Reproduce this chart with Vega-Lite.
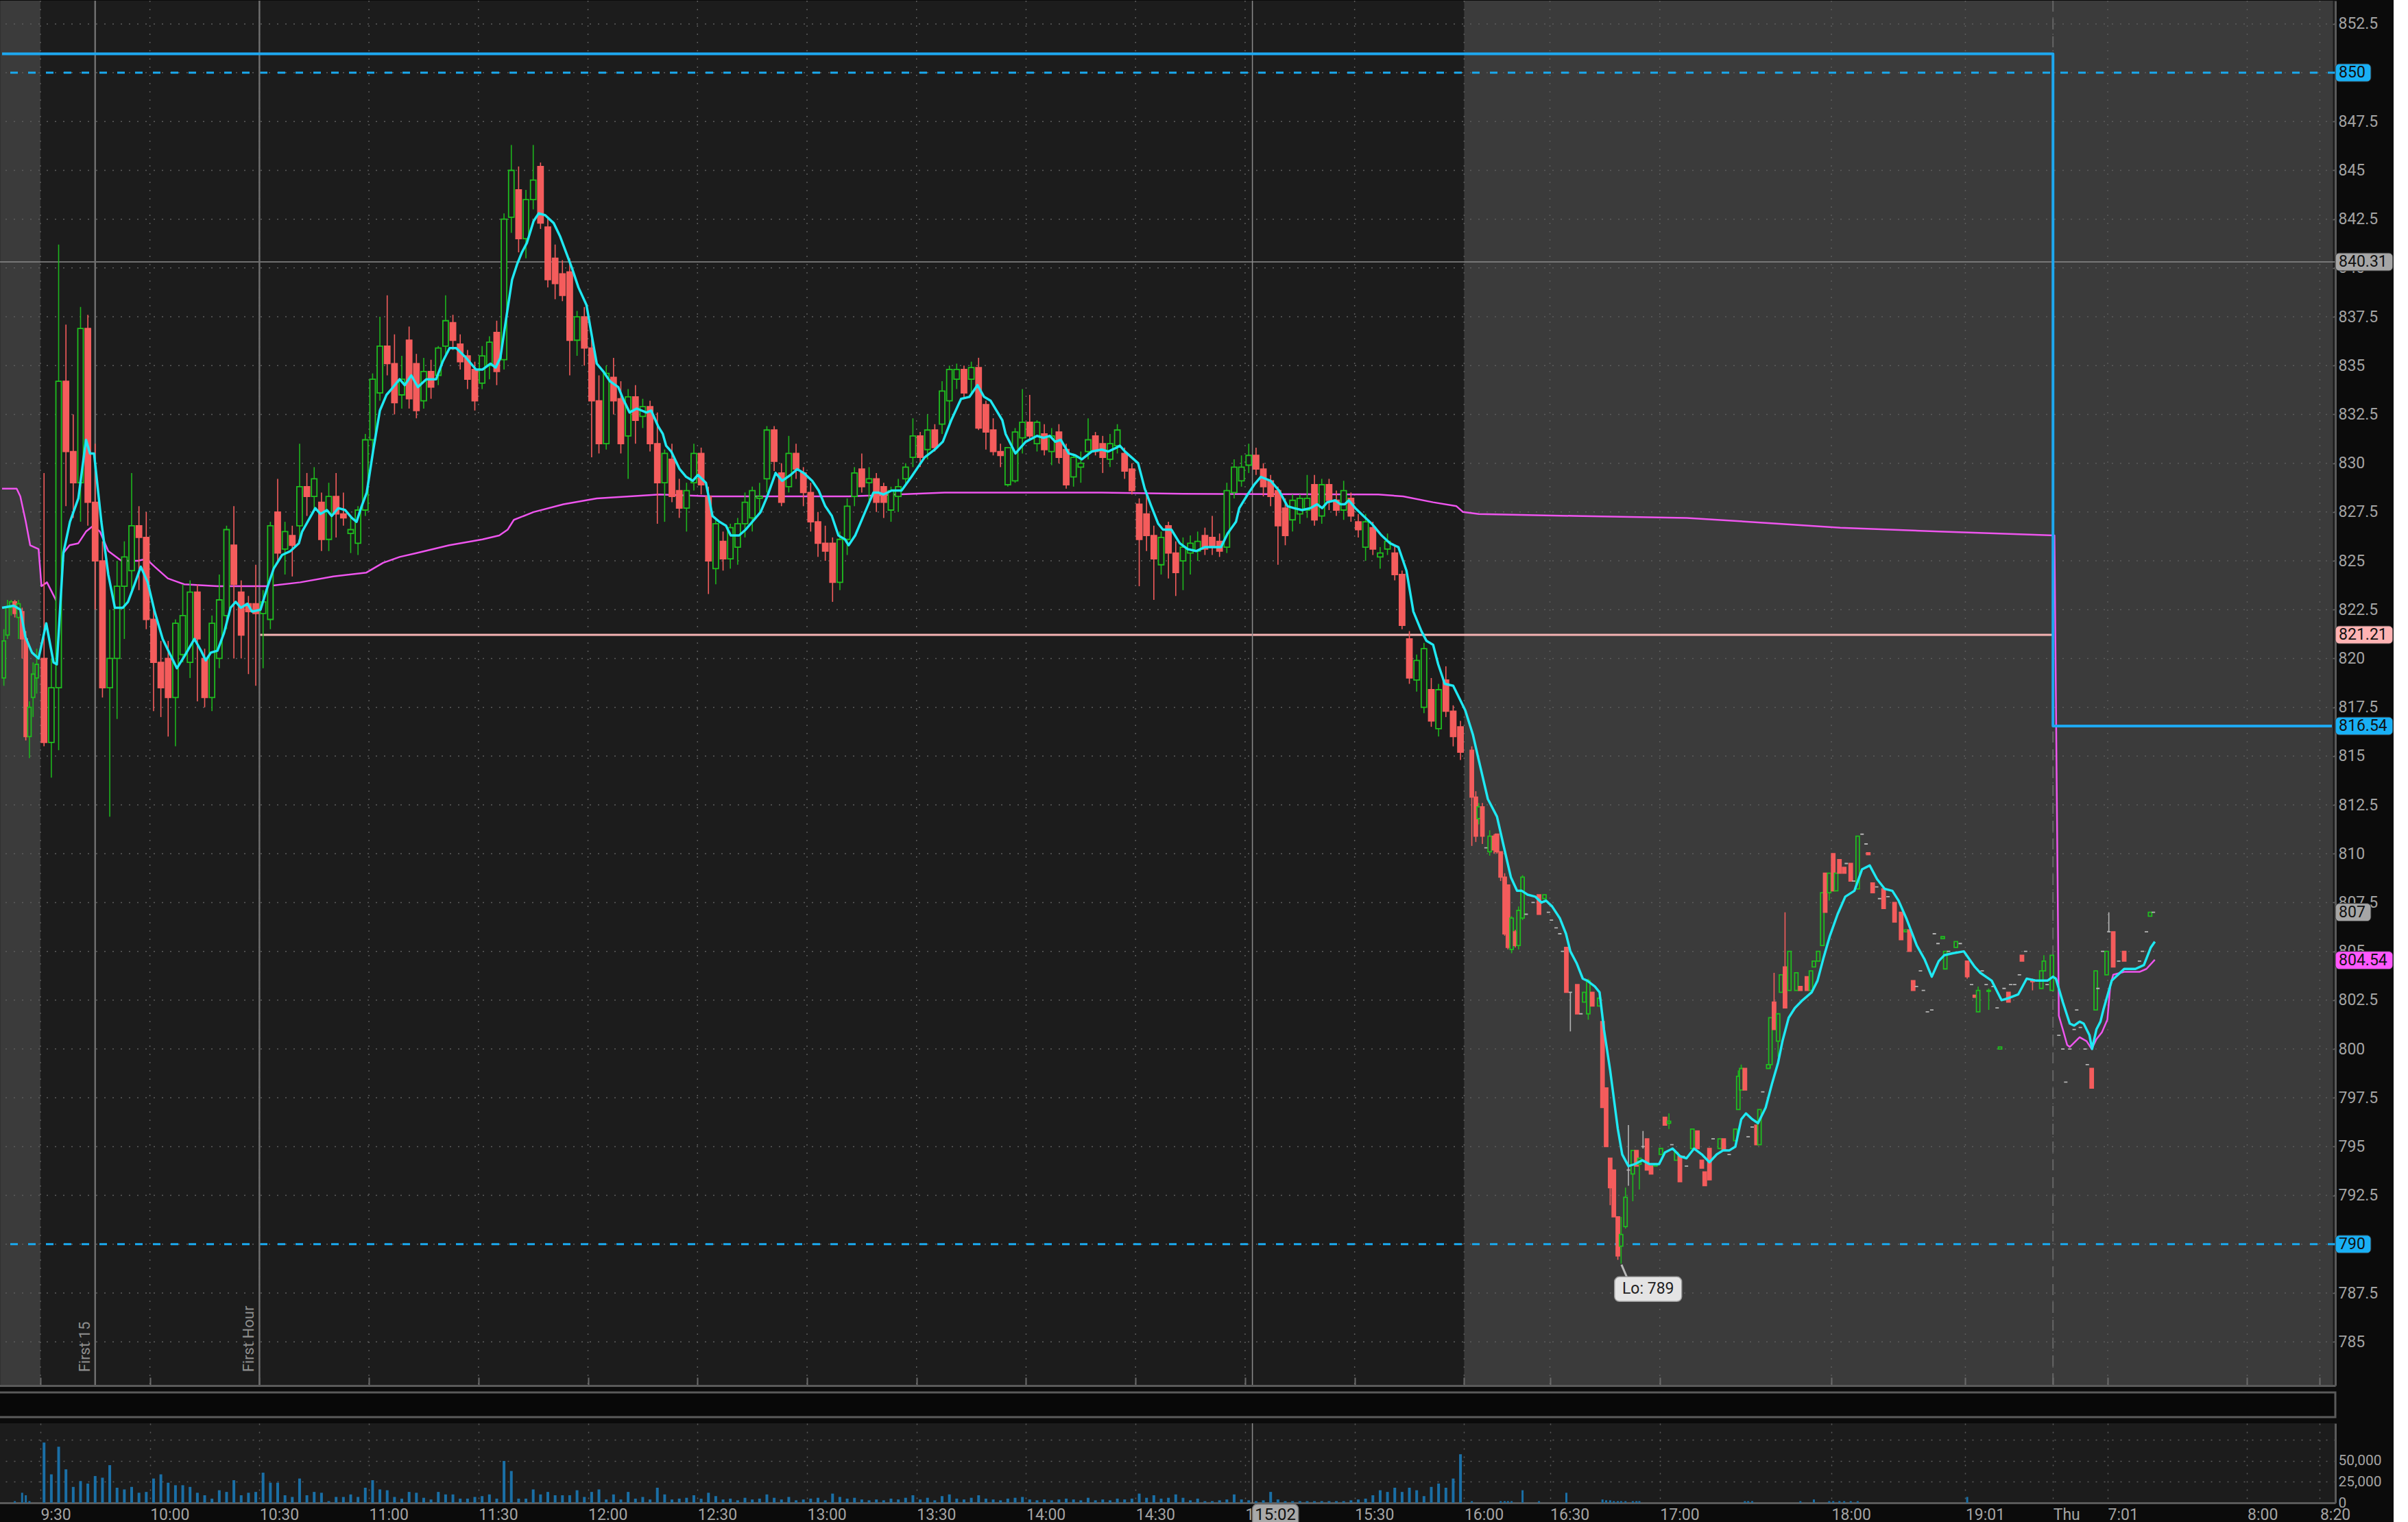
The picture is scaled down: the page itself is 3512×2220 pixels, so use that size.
{
"$schema":"https://vega.github.io/schema/vega-lite/v6.json",
"background":"#0b0b0b",
"padding":{"left":-4,"top":-1,"right":0,"bottom":0},
"spacing":6,
"config":{"view":{"stroke":null},"font":"Roboto"},
"datasets":{
"bars":[
{"t":-10,"o":819.0,"h":821.5,"l":818.6,"c":820.9},
{"t":-9,"o":821.2,"h":823.0,"l":821.0,"c":822.6},
{"t":-8,"o":822.6,"h":823.0,"l":822.2,"c":822.9},
{"t":-7,"o":822.9,"h":823.0,"l":822.1,"c":822.3,"v":2000},
{"t":-6,"o":822.1,"h":823.0,"l":821.0,"c":822.8},
{"t":-5,"o":822.4,"h":822.6,"l":820.0,"c":821.0,"v":12000},
{"t":-4,"o":821.0,"h":821.4,"l":815.8,"c":816.0,"v":9000},
{"t":-3,"o":816.0,"h":817.8,"l":814.9,"c":817.5,"v":2000},
{"t":-2,"o":818.0,"h":819.8,"l":817.0,"c":819.2},
{"t":-1,"o":819.0,"h":820.5,"l":818.2,"c":819.7},
{"t":1,"o":820,"h":829.5,"l":815.5,"c":815.7,"v":72000},
{"t":3,"o":815.7,"h":820,"l":813.9,"c":818.5,"v":34000},
{"t":5,"o":818.5,"h":841.2,"l":815.3,"c":834.2,"v":67000},
{"t":7,"o":834.2,"h":837.1,"l":827.8,"c":830.6,"v":40000},
{"t":9,"o":830.6,"h":832.5,"l":827.2,"c":829.0,"v":19000},
{"t":11,"o":829.0,"h":838.0,"l":827.0,"c":836.9,"v":26000},
{"t":13,"o":836.9,"h":837.6,"l":826.8,"c":828.0,"v":23000},
{"t":15,"o":828.0,"h":831.0,"l":822.5,"c":825.0,"v":32000},
{"t":17,"o":825.0,"h":826.0,"l":818.0,"c":818.5,"v":30000},
{"t":19,"o":818.5,"h":822.5,"l":811.9,"c":820.0,"v":45000},
{"t":21,"o":820.0,"h":825.0,"l":816.9,"c":823.7,"v":18000},
{"t":23,"o":823.7,"h":826.0,"l":821.0,"c":825.2,"v":16000},
{"t":25,"o":824.5,"h":829.5,"l":823.5,"c":826.8,"v":19000},
{"t":27,"o":826.8,"h":827.8,"l":823.5,"c":826.2,"v":12000},
{"t":29,"o":826.2,"h":827.5,"l":821.5,"c":822.0,"v":13000},
{"t":31,"o":822.0,"h":822.5,"l":817.3,"c":819.8,"v":29000},
{"t":33,"o":819.8,"h":820.9,"l":817.0,"c":818.5,"v":34000},
{"t":35,"o":820.0,"h":820.9,"l":816.0,"c":818.0,"v":24000},
{"t":37,"o":818.0,"h":822.0,"l":815.5,"c":821.8,"v":21000},
{"t":39,"o":820.2,"h":823.8,"l":819.8,"c":822.2,"v":21000},
{"t":41,"o":819.8,"h":824.0,"l":819.0,"c":823.4,"v":19000},
{"t":43,"o":823.4,"h":823.8,"l":817.8,"c":821.0,"v":12000},
{"t":45,"o":820.0,"h":820.5,"l":817.5,"c":818.0,"v":9000},
{"t":47,"o":818.0,"h":822.2,"l":817.3,"c":821.8,"v":5000},
{"t":49,"o":820.0,"h":824.3,"l":819.5,"c":823.0,"v":15000},
{"t":51,"o":822.2,"h":826.8,"l":821.5,"c":826.6,"v":13000},
{"t":53,"o":825.8,"h":827.8,"l":820.0,"c":823.8,"v":27000},
{"t":55,"o":823.4,"h":824.0,"l":820.0,"c":821.2,"v":9000},
{"t":57,"o":822.8,"h":823.2,"l":819.2,"c":822.4,"v":12000},
{"t":59,"o":822.8,"h":824.8,"l":818.6,"c":822.3,"v":13000},
{"t":61,"o":822.3,"h":823.5,"l":819.5,"c":822.9,"v":36000},
{"t":63,"o":822.0,"h":827.0,"l":821.5,"c":826.8,"v":24000},
{"t":65,"o":827.5,"h":829.2,"l":825.0,"c":825.4,"v":24000},
{"t":67,"o":825.6,"h":827.0,"l":824.3,"c":826.5,"v":9000},
{"t":69,"o":826.3,"h":826.8,"l":824.2,"c":825.8,"v":7000},
{"t":71,"o":826.8,"h":831.0,"l":826.2,"c":828.8,"v":29000},
{"t":73,"o":828.8,"h":829.5,"l":827.3,"c":828.3,"v":9000},
{"t":75,"o":828.3,"h":829.8,"l":827.5,"c":829.2,"v":13000},
{"t":77,"o":828.0,"h":828.5,"l":825.5,"c":826.1,"v":12000},
{"t":79,"o":826.1,"h":829.0,"l":825.5,"c":828.3,"v":2000},
{"t":81,"o":828.3,"h":829.5,"l":826.2,"c":827.4,"v":7000},
{"t":83,"o":827.4,"h":828.5,"l":826.8,"c":827.2,"v":7000},
{"t":85,"o":826.4,"h":827.2,"l":825.4,"c":826.6,"v":10000},
{"t":87,"o":825.9,"h":827.8,"l":825.3,"c":827.6,"v":7000},
{"t":89,"o":827.6,"h":831.5,"l":827.3,"c":831.2,"v":18000},
{"t":91,"o":831.2,"h":834.6,"l":830.5,"c":834.3,"v":27000},
{"t":93,"o":833.6,"h":837.5,"l":833.2,"c":836.0,"v":16000},
{"t":95,"o":836.0,"h":838.6,"l":834.5,"c":835.1,"v":15000},
{"t":97,"o":835.1,"h":836.6,"l":832.5,"c":833.1,"v":7000},
{"t":99,"o":833.5,"h":835.5,"l":832.8,"c":834.3,"v":5000},
{"t":101,"o":836.3,"h":837.0,"l":832.8,"c":833.3,"v":13000},
{"t":103,"o":835.1,"h":835.6,"l":832.3,"c":832.7,"v":12000},
{"t":105,"o":833.2,"h":835.4,"l":832.8,"c":834.7,"v":6000},
{"t":107,"o":834.7,"h":835.3,"l":833.3,"c":833.9,"v":4000},
{"t":109,"o":834.5,"h":836.0,"l":834.0,"c":835.9,"v":13000},
{"t":111,"o":836.0,"h":838.6,"l":835.6,"c":837.3,"v":10000},
{"t":113,"o":837.2,"h":837.6,"l":835.8,"c":836.3,"v":10000},
{"t":115,"o":836.1,"h":836.6,"l":834.8,"c":835.2,"v":5000},
{"t":117,"o":835.5,"h":835.8,"l":833.8,"c":834.3,"v":5000},
{"t":119,"o":834.8,"h":835.2,"l":832.7,"c":833.2,"v":7000},
{"t":121,"o":834.1,"h":836.0,"l":833.8,"c":835.5,"v":8000},
{"t":123,"o":835.0,"h":836.5,"l":834.3,"c":836.2,"v":10000},
{"t":125,"o":836.7,"h":837.3,"l":834.0,"c":834.7,"v":5000},
{"t":127,"o":835.3,"h":842.8,"l":834.8,"c":842.5,"v":50000},
{"t":129,"o":842.6,"h":846.3,"l":841.8,"c":845.0,"v":38000},
{"t":131,"o":844.0,"h":845.2,"l":840.8,"c":841.5,"v":5000},
{"t":133,"o":841.5,"h":844.0,"l":840.5,"c":843.5,"v":5000},
{"t":135,"o":843.5,"h":846.3,"l":843.0,"c":844.5,"v":16000},
{"t":137,"o":845.2,"h":845.4,"l":842.0,"c":842.3,"v":10000},
{"t":139,"o":842.1,"h":842.6,"l":839.0,"c":839.4,"v":13000},
{"t":141,"o":840.5,"h":841.2,"l":838.4,"c":839.2,"v":9000},
{"t":143,"o":839.7,"h":840.4,"l":838.3,"c":838.6,"v":9000},
{"t":145,"o":839.8,"h":840.5,"l":834.5,"c":836.3,"v":9000},
{"t":147,"o":836.3,"h":837.8,"l":835.5,"c":837.5,"v":15000},
{"t":149,"o":837.5,"h":838.0,"l":835.0,"c":835.9,"v":7000},
{"t":151,"o":835.9,"h":836.5,"l":830.3,"c":833.2,"v":13000},
{"t":153,"o":833.2,"h":834.5,"l":830.5,"c":831.0,"v":16000},
{"t":155,"o":831.0,"h":835.0,"l":830.7,"c":834.6,"v":4000},
{"t":157,"o":834.4,"h":835.4,"l":832.5,"c":833.2,"v":10000},
{"t":159,"o":833.3,"h":834.2,"l":830.5,"c":831.0,"v":4000},
{"t":161,"o":831.4,"h":833.8,"l":829.2,"c":833.4,"v":13000},
{"t":163,"o":833.4,"h":834.0,"l":831.0,"c":832.2,"v":5000},
{"t":165,"o":832.4,"h":833.3,"l":831.8,"c":832.9,"v":7000},
{"t":167,"o":832.9,"h":833.2,"l":830.6,"c":831.0,"v":4000},
{"t":169,"o":831.0,"h":832.6,"l":826.9,"c":829.0,"v":18000},
{"t":171,"o":829.0,"h":830.7,"l":827.0,"c":830.5,"v":10000},
{"t":173,"o":830.2,"h":831.0,"l":828.0,"c":828.3,"v":4000},
{"t":175,"o":828.6,"h":829.2,"l":827.2,"c":827.7,"v":5000},
{"t":177,"o":827.7,"h":829.0,"l":826.5,"c":828.6,"v":6000},
{"t":179,"o":829.0,"h":831.0,"l":828.6,"c":830.5,"v":9000},
{"t":181,"o":830.5,"h":830.8,"l":828.4,"c":828.9,"v":5000},
{"t":183,"o":828.3,"h":828.8,"l":823.3,"c":825.0,"v":12000},
{"t":185,"o":824.6,"h":827.2,"l":823.8,"c":826.9,"v":8000},
{"t":187,"o":826.0,"h":826.5,"l":824.5,"c":825.1,"v":4000},
{"t":189,"o":825.1,"h":826.9,"l":824.6,"c":826.7,"v":5000},
{"t":191,"o":825.7,"h":827.2,"l":824.8,"c":826.9,"v":3000},
{"t":193,"o":826.9,"h":828.5,"l":826.2,"c":828.0,"v":6000},
{"t":195,"o":827.2,"h":828.8,"l":826.5,"c":828.6,"v":4000},
{"t":197,"o":828.2,"h":829.0,"l":827.5,"c":828.3,"v":5000},
{"t":199,"o":829.2,"h":831.9,"l":828.5,"c":831.7,"v":10000},
{"t":201,"o":831.7,"h":831.9,"l":829.6,"c":830.1,"v":6000},
{"t":203,"o":829.5,"h":830.0,"l":827.8,"c":828.0,"v":4000},
{"t":205,"o":828.8,"h":831.4,"l":828.5,"c":830.5,"v":7000},
{"t":207,"o":830.5,"h":831.0,"l":829.2,"c":829.7,"v":3000},
{"t":209,"o":829.5,"h":829.8,"l":827.8,"c":828.5,"v":4000},
{"t":211,"o":828.5,"h":829.0,"l":826.5,"c":827.0,"v":5000},
{"t":213,"o":827.0,"h":827.5,"l":825.2,"c":825.9,"v":6000},
{"t":215,"o":825.9,"h":826.8,"l":825.0,"c":825.5,"v":3000},
{"t":217,"o":825.9,"h":826.2,"l":822.9,"c":823.9,"v":11000},
{"t":219,"o":823.9,"h":826.5,"l":823.5,"c":826.1,"v":7000},
{"t":221,"o":826.1,"h":828.2,"l":825.3,"c":827.8,"v":5000},
{"t":223,"o":828.3,"h":829.8,"l":827.8,"c":829.5,"v":6000},
{"t":225,"o":829.7,"h":830.5,"l":828.5,"c":828.8,"v":4000},
{"t":227,"o":829.0,"h":829.8,"l":828.0,"c":829.2,"v":3000},
{"t":229,"o":829.2,"h":829.5,"l":827.5,"c":828.0,"v":4000},
{"t":231,"o":828.8,"h":829.0,"l":827.2,"c":828.0,"v":3000},
{"t":233,"o":827.6,"h":828.8,"l":827.0,"c":828.6,"v":5000},
{"t":235,"o":828.3,"h":829.2,"l":827.5,"c":828.8,"v":4000},
{"t":237,"o":829.2,"h":830.0,"l":828.9,"c":829.8,"v":6000},
{"t":239,"o":830.3,"h":832.3,"l":829.8,"c":831.4,"v":9000},
{"t":241,"o":831.4,"h":831.6,"l":829.8,"c":830.3,"v":4000},
{"t":243,"o":830.7,"h":832.5,"l":830.2,"c":831.7,"v":6000},
{"t":245,"o":831.7,"h":832.0,"l":830.6,"c":830.8,"v":3000},
{"t":247,"o":832.0,"h":834.2,"l":831.5,"c":833.7,"v":8000},
{"t":249,"o":833.2,"h":835.0,"l":832.0,"c":834.8,"v":10000},
{"t":251,"o":834.3,"h":835.1,"l":833.8,"c":834.8,"v":5000},
{"t":253,"o":834.8,"h":835.0,"l":833.3,"c":833.6,"v":4000},
{"t":255,"o":834.3,"h":835.2,"l":833.5,"c":834.9,"v":6000},
{"t":257,"o":834.9,"h":835.4,"l":831.7,"c":831.8,"v":9000},
{"t":259,"o":833.0,"h":833.2,"l":830.7,"c":831.6,"v":5000},
{"t":261,"o":831.7,"h":832.3,"l":830.4,"c":830.6,"v":4000},
{"t":263,"o":830.6,"h":831.0,"l":829.8,"c":830.4,"v":3000},
{"t":265,"o":828.9,"h":830.8,"l":828.8,"c":830.8,"v":5000},
{"t":267,"o":829.1,"h":831.8,"l":829.0,"c":831.6,"v":6000},
{"t":269,"o":831.3,"h":833.8,"l":830.5,"c":832.1,"v":7000},
{"t":271,"o":832.1,"h":833.5,"l":831.2,"c":831.4,"v":4000},
{"t":273,"o":831.0,"h":832.2,"l":830.6,"c":832.1,"v":3000},
{"t":275,"o":831.5,"h":832.0,"l":830.4,"c":830.7,"v":4000},
{"t":277,"o":830.6,"h":831.8,"l":829.9,"c":831.4,"v":3000},
{"t":279,"o":831.6,"h":832.0,"l":830.0,"c":830.3,"v":4000},
{"t":281,"o":830.7,"h":831.0,"l":828.7,"c":828.9,"v":5000},
{"t":283,"o":829.3,"h":830.5,"l":828.8,"c":830.3,"v":4000},
{"t":285,"o":829.8,"h":830.6,"l":829.0,"c":830.0,"v":3000},
{"t":287,"o":830.6,"h":832.3,"l":830.2,"c":831.2,"v":6000},
{"t":289,"o":831.4,"h":831.6,"l":830.4,"c":830.6,"v":3000},
{"t":291,"o":831.0,"h":831.4,"l":829.5,"c":830.3,"v":4000},
{"t":293,"o":830.2,"h":831.5,"l":829.8,"c":831.0,"v":3000},
{"t":295,"o":830.9,"h":832.0,"l":830.5,"c":831.7,"v":5000},
{"t":297,"o":830.5,"h":830.8,"l":829.2,"c":829.6,"v":4000},
{"t":299,"o":829.7,"h":830.0,"l":828.4,"c":828.6,"v":5000},
{"t":301,"o":827.9,"h":828.2,"l":823.7,"c":826.1,"v":11000},
{"t":303,"o":827.4,"h":828.6,"l":825.5,"c":826.3,"v":6000},
{"t":305,"o":826.3,"h":826.8,"l":823.0,"c":825.1,"v":9000},
{"t":307,"o":824.8,"h":826.5,"l":824.3,"c":826.2,"v":5000},
{"t":309,"o":826.8,"h":827.0,"l":824.1,"c":825.4,"v":6000},
{"t":311,"o":825.4,"h":826.0,"l":823.2,"c":824.4,"v":10000},
{"t":313,"o":825.0,"h":826.2,"l":823.5,"c":825.7,"v":6000},
{"t":315,"o":825.4,"h":826.3,"l":824.3,"c":825.9,"v":3000},
{"t":317,"o":825.5,"h":826.5,"l":825.0,"c":826.0,"v":5000},
{"t":319,"o":826.3,"h":826.7,"l":825.3,"c":825.6,"v":2000},
{"t":321,"o":826.2,"h":827.3,"l":825.3,"c":825.7,"v":2000},
{"t":323,"o":826.0,"h":826.4,"l":825.2,"c":825.5,"v":3000},
{"t":325,"o":825.7,"h":829.0,"l":825.4,"c":828.6,"v":4000},
{"t":327,"o":828.5,"h":830.2,"l":828.2,"c":829.8,"v":10000},
{"t":329,"o":829.1,"h":830.4,"l":828.8,"c":829.8,"v":4000},
{"t":331,"o":829.9,"h":831.0,"l":829.5,"c":830.4,"v":3000},
{"t":333,"o":830.4,"h":830.8,"l":829.4,"c":829.7,"v":2000},
{"t":335,"o":829.7,"h":830.0,"l":828.3,"c":828.8,"v":3000},
{"t":337,"o":829.1,"h":829.4,"l":827.8,"c":828.3,"v":13000},
{"t":339,"o":828.6,"h":828.8,"l":824.8,"c":826.8,"v":4000},
{"t":341,"o":827.7,"h":828.2,"l":825.8,"c":826.3,"v":2000},
{"t":343,"o":827.1,"h":828.4,"l":826.5,"c":828.1,"v":2000},
{"t":345,"o":827.4,"h":828.4,"l":826.9,"c":828.2,"v":2000},
{"t":347,"o":827.6,"h":829.4,"l":827.2,"c":828.2,"v":2000},
{"t":349,"o":828.9,"h":829.4,"l":826.8,"c":827.1,"v":2000},
{"t":351,"o":827.3,"h":829.2,"l":826.9,"c":828.9,"v":2000},
{"t":353,"o":828.9,"h":829.2,"l":827.6,"c":828.1,"v":2000},
{"t":355,"o":828.1,"h":828.6,"l":827.3,"c":827.6,"v":2000},
{"t":357,"o":827.6,"h":829.1,"l":827.1,"c":828.6,"v":2000},
{"t":359,"o":828.2,"h":828.5,"l":827.0,"c":827.3,"v":3000},
{"t":361,"o":827.0,"h":827.4,"l":826.2,"c":826.6,"v":4000},
{"t":363,"o":825.7,"h":827.4,"l":825.0,"c":827.0,"v":5000},
{"t":365,"o":826.7,"h":827.0,"l":825.3,"c":825.6,"v":9000},
{"t":367,"o":825.2,"h":825.7,"l":824.6,"c":825.4,"v":15000},
{"t":369,"o":825.6,"h":826.4,"l":825.3,"c":826.0,"v":13000},
{"t":371,"o":825.4,"h":825.8,"l":824.0,"c":824.3,"v":18000},
{"t":373,"o":824.3,"h":824.5,"l":821.5,"c":821.7,"v":13000},
{"t":375,"o":821.0,"h":821.4,"l":818.7,"c":819.0,"v":18000},
{"t":377,"o":818.9,"h":820.2,"l":818.3,"c":819.9,"v":15000},
{"t":379,"o":817.5,"h":820.8,"l":817.2,"c":820.5,"v":8000},
{"t":381,"o":818.4,"h":819.0,"l":816.5,"c":816.8,"v":19000},
{"t":383,"o":816.4,"h":818.7,"l":816.0,"c":818.4,"v":23000},
{"t":385,"o":818.9,"h":819.6,"l":817.0,"c":817.3,"v":18000},
{"t":387,"o":817.3,"h":817.6,"l":815.5,"c":816.0,"v":29000},
{"t":389,"o":816.5,"h":816.8,"l":814.8,"c":815.2,"v":58000},
{"t":392.1,"o":815.3,"h":815.5,"l":810.4,"c":812.9,"v":2000},
{"t":393.2,"o":812.9,"h":813.2,"l":810.6,"c":810.9},
{"t":394,"o":811.8,"h":812.6,"l":811.5,"c":812.4},
{"t":395,"o":812.4,"h":812.6,"l":810.5,"c":810.9},
{"t":396,"o":810.3,"h":810.3,"l":810.3,"c":810.3},
{"t":397,"o":810.1,"h":811.2,"l":809.9,"c":810.9},
{"t":398.2,"o":810.9,"h":811.0,"l":810.0,"c":810.2},
{"t":399,"o":811.0,"h":811.0,"l":810.0,"c":810.1},
{"t":400,"o":810.1,"h":810.1,"l":808.6,"c":808.8,"v":2000},
{"t":401.1,"o":808.8,"h":809.0,"l":805.8,"c":805.9,"v":2000},
{"t":402,"o":808.4,"h":808.4,"l":805.1,"c":805.2,"v":2000},
{"t":403,"o":805.1,"h":806.8,"l":804.9,"c":806.7,"v":2000},
{"t":404,"o":806.0,"h":806.1,"l":805.2,"c":805.3},
{"t":404.9,"o":805.3,"h":807.3,"l":805.1,"c":807.1},
{"t":406,"o":806.7,"h":808.9,"l":806.6,"c":808.8,"v":15000},
{"t":407,"o":806.9,"h":806.9,"l":806.9,"c":806.9},
{"t":408.9,"o":807.5,"h":807.5,"l":807.5,"c":807.5},
{"t":410.5,"o":807.9,"h":807.9,"l":806.9,"c":806.9,"v":2000},
{"t":412,"o":807.7,"h":807.9,"l":807.7,"c":807.9},
{"t":413.1,"o":807.0,"h":807.0,"l":807.0,"c":807.0},
{"t":413.9,"o":806.6,"h":806.6,"l":806.6,"c":806.6},
{"t":415.2,"o":806.2,"h":806.2,"l":806.2,"c":806.2},
{"t":416.2,"o":805.9,"h":805.9,"l":805.9,"c":805.9},
{"t":417,"o":805.0,"h":805.0,"l":805.0,"c":805.0},
{"t":418,"o":805.2,"h":805.2,"l":802.9,"c":802.9,"v":12000},
{"t":419.1,"o":802.9,"h":802.9,"l":800.9,"c":802.9},
{"t":421,"o":803.3,"h":803.3,"l":801.8,"c":801.8},
{"t":422,"o":801.8,"h":801.8,"l":801.8,"c":801.8},
{"t":422.9,"o":802.4,"h":802.9,"l":802.4,"c":802.9},
{"t":424,"o":801.8,"h":803.6,"l":801.5,"c":803.5},
{"t":425.1,"o":802.9,"h":802.9,"l":802.2,"c":802.2},
{"t":427,"o":802.2,"h":802.7,"l":802.2,"c":802.6},
{"t":427.9,"o":801.4,"h":801.4,"l":797.0,"c":797.0,"v":4000},
{"t":428.9,"o":798.0,"h":798.0,"l":795.0,"c":795.0,"v":3000},
{"t":430,"o":794.4,"h":794.4,"l":792.0,"c":792.9,"v":3000},
{"t":431,"o":793.8,"h":793.8,"l":791.4,"c":791.4,"v":2000},
{"t":432.1,"o":791.4,"h":791.4,"l":789.2,"c":789.4,"v":2000},
{"t":433,"o":789.9,"h":791.4,"l":789.0,"c":790.5,"v":2000},
{"t":434.2,"o":790.9,"h":792.9,"l":790.8,"c":792.4,"v":2000},
{"t":435,"o":793.8,"h":796.1,"l":793.0,"c":793.8},
{"t":436.2,"o":793.6,"h":794.8,"l":792.2,"c":794.8,"v":2000},
{"t":437.2,"o":794.8,"h":794.8,"l":794.0,"c":794.0,"v":2000},
{"t":438,"o":794.1,"h":794.4,"l":792.8,"c":794.4,"v":2000},
{"t":439,"o":795.0,"h":795.8,"l":794.9,"c":795.0},
{"t":440.1,"o":795.4,"h":795.4,"l":793.8,"c":793.8},
{"t":441.2,"o":794.0,"h":794.0,"l":793.6,"c":793.6},
{"t":442.4,"o":794.0,"h":794.1,"l":794.0,"c":794.1},
{"t":443.9,"o":794.6,"h":794.9,"l":794.6,"c":794.9},
{"t":445,"o":796.5,"h":796.5,"l":796.1,"c":796.1},
{"t":446.1,"o":796.2,"h":796.7,"l":795.9,"c":796.3},
{"t":446.9,"o":795.1,"h":795.1,"l":795.1,"c":795.1},
{"t":448.1,"o":794.3,"h":794.7,"l":794.3,"c":794.7},
{"t":449.1,"o":794.5,"h":794.5,"l":793.2,"c":793.2},
{"t":450,"o":794.5,"h":794.5,"l":794.5,"c":794.5},
{"t":450.9,"o":794.0,"h":794.0,"l":794.0,"c":794.0},
{"t":452.5,"o":794.9,"h":795.9,"l":794.9,"c":795.9},
{"t":453.9,"o":795.8,"h":795.8,"l":794.9,"c":794.9},
{"t":455.1,"o":794.3,"h":794.3,"l":793.9,"c":793.9},
{"t":455.9,"o":793.7,"h":793.7,"l":793.0,"c":793.0},
{"t":457.2,"o":794.9,"h":794.9,"l":793.3,"c":793.3},
{"t":458.2,"o":795.4,"h":795.4,"l":795.4,"c":795.4},
{"t":460,"o":794.9,"h":795.4,"l":794.9,"c":795.4},
{"t":461.1,"o":795.4,"h":795.4,"l":794.8,"c":794.8},
{"t":462.6,"o":794.6,"h":794.6,"l":794.6,"c":794.6},
{"t":464.3,"o":795.3,"h":795.9,"l":795.3,"c":795.9},
{"t":465.1,"o":796.9,"h":798.9,"l":796.9,"c":798.6},
{"t":465.9,"o":797.9,"h":799.2,"l":797.9,"c":799.0},
{"t":466.9,"o":799.0,"h":799.0,"l":797.9,"c":797.9,"v":2000},
{"t":467.8,"o":795.5,"h":795.5,"l":795.5,"c":795.5,"v":2000},
{"t":468.9,"o":796.0,"h":796.0,"l":796.0,"c":796.0,"v":2000},
{"t":470.1,"o":796.1,"h":796.1,"l":795.1,"c":795.1},
{"t":470.9,"o":795.1,"h":796.9,"l":795.1,"c":796.9},
{"t":471.8,"o":797.8,"h":797.8,"l":797.8,"c":797.8},
{"t":473.3,"o":799.0,"h":799.2,"l":799.0,"c":799.2},
{"t":473.9,"o":799.2,"h":801.6,"l":799.0,"c":801.6},
{"t":474.9,"o":802.4,"h":803.9,"l":801.0,"c":801.0},
{"t":476,"o":800.4,"h":801.8,"l":799.6,"c":801.8},
{"t":476.8,"o":802.9,"h":803.8,"l":802.9,"c":803.8},
{"t":477.9,"o":804.2,"h":807.0,"l":802.1,"c":802.1},
{"t":479.1,"o":803.0,"h":805.0,"l":803.0,"c":805.0},
{"t":481,"o":803.0,"h":803.9,"l":803.0,"c":803.9},
{"t":482.1,"o":803.2,"h":803.2,"l":803.0,"c":803.0,"v":2000},
{"t":483.9,"o":803.7,"h":803.7,"l":803.0,"c":803.0},
{"t":485,"o":803.0,"h":804.0,"l":803.0,"c":804.0},
{"t":485.8,"o":804.2,"h":804.5,"l":804.2,"c":804.5,"v":4000},
{"t":487,"o":804.5,"h":805.0,"l":804.5,"c":805.0},
{"t":488.1,"o":805.3,"h":808.0,"l":805.3,"c":808.0},
{"t":488.9,"o":809.0,"h":809.0,"l":807.0,"c":807.0},
{"t":490,"o":808.0,"h":809.0,"l":807.6,"c":809.0,"v":2000},
{"t":491.1,"o":810.0,"h":810.0,"l":808.1,"c":808.1,"v":2000},
{"t":491.9,"o":808.1,"h":809.0,"l":808.1,"c":809.0},
{"t":492.8,"o":809.7,"h":809.7,"l":809.0,"c":809.0,"v":2000},
{"t":494.1,"o":809.3,"h":809.3,"l":809.0,"c":809.0,"v":2000},
{"t":494.7,"o":809.5,"h":809.5,"l":809.5,"c":809.5},
{"t":495.9,"o":809.5,"h":809.5,"l":808.6,"c":808.6,"v":2000},
{"t":496.7,"o":808.6,"h":808.6,"l":808.6,"c":808.6},
{"t":497.8,"o":808.2,"h":810.9,"l":808.2,"c":810.9,"v":2000},
{"t":499,"o":811.0,"h":811.0,"l":811.0,"c":811.0},
{"t":500.1,"o":810.5,"h":810.5,"l":810.5,"c":810.5},
{"t":500.7,"o":810.05,"h":810.05,"l":809.95,"c":809.95},
{"t":501.9,"o":808.5,"h":808.5,"l":808.0,"c":808.0},
{"t":503,"o":808.3,"h":808.3,"l":808.3,"c":808.3},
{"t":503.8,"o":807.7,"h":807.7,"l":807.7,"c":807.7},
{"t":504.9,"o":808.2,"h":808.2,"l":807.2,"c":807.2},
{"t":506.1,"o":807.8,"h":807.8,"l":807.8,"c":807.8},
{"t":507.9,"o":807.5,"h":807.5,"l":806.5,"c":806.5},
{"t":509.7,"o":807.0,"h":807.0,"l":805.6,"c":805.6},
{"t":511,"o":806.0,"h":806.1,"l":806.0,"c":806.1},
{"t":512,"o":806.1,"h":806.1,"l":805.0,"c":805.0},
{"t":513,"o":803.5,"h":803.5,"l":803.0,"c":803.0},
{"t":513.9,"o":803.2,"h":803.2,"l":803.2,"c":803.2},
{"t":515,"o":804.0,"h":804.0,"l":804.0,"c":804.0},
{"t":515.8,"o":803.0,"h":803.0,"l":803.0,"c":803.0},
{"t":516.9,"o":801.9,"h":801.9,"l":801.9,"c":801.9},
{"t":518.1,"o":802.0,"h":802.0,"l":802.0,"c":802.0},
{"t":518.8,"o":805.9,"h":805.9,"l":805.9,"c":805.9},
{"t":519.8,"o":805.4,"h":805.4,"l":805.4,"c":805.4},
{"t":521.1,"o":805.65,"h":805.75,"l":805.65,"c":805.75},
{"t":521.8,"o":804.1,"h":805.0,"l":804.1,"c":805.0},
{"t":522.7,"o":805.0,"h":805.0,"l":805.0,"c":805.0},
{"t":524.7,"o":805.2,"h":805.5,"l":805.2,"c":805.5},
{"t":525.9,"o":805.4,"h":805.4,"l":805.4,"c":805.4},
{"t":527.8,"o":804.5,"h":804.5,"l":803.6,"c":803.7,"v":7000},
{"t":529,"o":803.3,"h":803.3,"l":803.3,"c":803.3},
{"t":529.9,"o":802.75,"h":802.75,"l":802.65,"c":802.65},
{"t":530.8,"o":801.9,"h":803.2,"l":801.9,"c":803.0},
{"t":531.9,"o":804.0,"h":804.0,"l":804.0,"c":804.0},
{"t":533,"o":803.3,"h":803.3,"l":803.3,"c":803.3},
{"t":533.7,"o":802.95,"h":803.1,"l":802.0,"c":803.0},
{"t":534.9,"o":803.2,"h":803.2,"l":803.2,"c":803.2},
{"t":536,"o":802.1,"h":802.1,"l":802.1,"c":802.1},
{"t":536.8,"o":800.0,"h":800.1,"l":800.0,"c":800.1},
{"t":537.9,"o":803.1,"h":803.1,"l":803.1,"c":803.1},
{"t":539.1,"o":802.9,"h":802.9,"l":802.4,"c":802.4},
{"t":539.7,"o":803.3,"h":803.3,"l":803.3,"c":803.3},
{"t":540.8,"o":803.3,"h":803.3,"l":803.3,"c":803.3},
{"t":542.1,"o":803.8,"h":803.8,"l":803.8,"c":803.8},
{"t":542.8,"o":804.8,"h":804.8,"l":804.5,"c":804.5},
{"t":543.8,"o":805.0,"h":805.0,"l":805.0,"c":805.0},
{"t":545.7,"o":803.55,"h":803.6,"l":803.0,"c":803.45},
{"t":548.1,"o":803.1,"h":804.0,"l":803.1,"c":804.0},
{"t":548.8,"o":804.0,"h":804.8,"l":804.0,"c":804.5},
{"t":549.7,"o":803.3,"h":803.3,"l":803.3,"c":803.3},
{"t":551,"o":803.0,"h":804.8,"l":803.0,"c":804.8},
{"t":552.9,"o":800.7,"h":800.7,"l":800.7,"c":800.7},
{"t":554,"o":800.0,"h":800.0,"l":800.0,"c":800.0},
{"t":554.8,"o":798.3,"h":798.3,"l":798.3,"c":798.3},
{"t":555.9,"o":800.0,"h":800.0,"l":800.0,"c":800.0},
{"t":557.1,"o":801.0,"h":801.0,"l":801.0,"c":801.0},
{"t":557.8,"o":802.0,"h":802.0,"l":802.0,"c":802.0},
{"t":558.8,"o":801.1,"h":801.1,"l":801.1,"c":801.1},
{"t":560.1,"o":800.0,"h":800.0,"l":800.0,"c":800.0},
{"t":560.7,"o":799.2,"h":799.2,"l":799.2,"c":799.2},
{"t":561.9,"o":799.0,"h":799.0,"l":798.0,"c":798.0},
{"t":563,"o":802.0,"h":804.0,"l":802.0,"c":804.0},
{"t":563.6,"o":803.1,"h":803.1,"l":803.1,"c":803.1},
{"t":564.9,"o":805.0,"h":805.0,"l":805.0,"c":805.0},
{"t":566,"o":803.8,"h":805.0,"l":803.8,"c":805.0},
{"t":566.6,"o":806.0,"h":807.0,"l":806.0,"c":806.0},
{"t":567.8,"o":806.0,"h":806.0,"l":804.2,"c":804.2},
{"t":569.3,"o":804.5,"h":804.5,"l":804.5,"c":804.5},
{"t":570.8,"o":805.0,"h":805.0,"l":804.5,"c":804.5},
{"t":575,"o":804.5,"h":804.5,"l":804.5,"c":804.5},
{"t":575.8,"o":805.0,"h":805.0,"l":805.0,"c":805.0},
{"t":576.9,"o":806.0,"h":806.0,"l":806.0,"c":806.0},
{"t":577.9,"o":806.8,"h":807.0,"l":806.8,"c":807.0},
{"t":578.8,"o":807.0,"h":807.0,"l":807.0,"c":807.0}
],
"ema":[
{"t":-10.5,"v":822.6},{"t":-7.3,"v":822.7},{"t":-5.5,"v":822.5},{"t":-4.1,"v":821.1},{"t":-2.3,"v":820.3},{"t":-0.5,"v":820.0},{"t":1.6,"v":821.8},{"t":3.6,"v":819.8},{"t":4.5,"v":819.7},{"t":6.3,"v":825.4},{"t":8.1,"v":827.0},{"t":10.4,"v":828.2},{"t":12.5,"v":831.2},{"t":13.6,"v":830.5},{"t":14.7,"v":830.5},{"t":16.7,"v":827.0},{"t":18.6,"v":824.3},{"t":20.4,"v":822.6},{"t":22.6,"v":822.6},{"t":24,"v":822.9},{"t":25.8,"v":823.8},{"t":27.5,"v":824.7},{"t":29.4,"v":823.9},{"t":31.3,"v":822.4},{"t":33.5,"v":821.0},{"t":35.3,"v":820.3},{"t":37.4,"v":819.5},{"t":39.4,"v":820.1},{"t":42.2,"v":821.0},{"t":44,"v":820.4},{"t":45.3,"v":819.9},{"t":46.7,"v":820.3},{"t":48.5,"v":820.4},{"t":50.3,"v":821.3},{"t":52.1,"v":822.6},{"t":53.5,"v":822.9},{"t":54.9,"v":822.6},{"t":56.7,"v":822.8},{"t":58,"v":822.4},{"t":60.3,"v":822.5},{"t":62.1,"v":823.6},{"t":63.9,"v":824.6},{"t":66.2,"v":825.3},{"t":68.5,"v":825.5},{"t":70.8,"v":825.9},{"t":71.7,"v":826.5},{"t":75.3,"v":827.7},{"t":76.7,"v":827.4},{"t":78.5,"v":827.6},{"t":79.8,"v":827.3},{"t":81.6,"v":827.7},{"t":83.5,"v":827.6},{"t":85.3,"v":827.2},{"t":86.6,"v":827.0},{"t":88,"v":827.8},{"t":89.4,"v":828.5},{"t":91.2,"v":830.7},{"t":93,"v":832.7},{"t":94.8,"v":833.5},{"t":96.2,"v":833.8},{"t":98.4,"v":834.3},{"t":99.8,"v":834.0},{"t":101.6,"v":834.5},{"t":103.4,"v":833.9},{"t":105.7,"v":834.3},{"t":108.4,"v":834.3},{"t":110.2,"v":835.2},{"t":112.1,"v":835.9},{"t":113.9,"v":835.9},{"t":116.6,"v":835.4},{"t":119.3,"v":834.8},{"t":121.1,"v":834.8},{"t":123.3,"v":835.1},{"t":124.7,"v":834.9},{"t":126,"v":835.4},{"t":127.9,"v":837.8},{"t":129.2,"v":839.4},{"t":130.6,"v":840.2},{"t":131.9,"v":840.8},{"t":133.3,"v":841.3},{"t":135.1,"v":842.4},{"t":136.5,"v":842.8},{"t":138.3,"v":842.7},{"t":140.6,"v":842.3},{"t":142.4,"v":841.6},{"t":144.2,"v":840.7},{"t":145.6,"v":840.0},{"t":147.4,"v":839.0},{"t":149.6,"v":838.1},{"t":150.6,"v":837.0},{"t":152.4,"v":835.1},{"t":154.2,"v":834.7},{"t":156,"v":834.2},{"t":158.3,"v":833.9},{"t":159.6,"v":833.3},{"t":161.4,"v":832.6},{"t":163.3,"v":832.8},{"t":166,"v":832.6},{"t":167.3,"v":832.7},{"t":169.2,"v":831.9},{"t":170.5,"v":831.5},{"t":171.4,"v":830.9},{"t":172.8,"v":830.6},{"t":175.1,"v":829.7},{"t":176.9,"v":829.3},{"t":178.7,"v":829.1},{"t":180.1,"v":829.4},{"t":182.3,"v":829.0},{"t":184.1,"v":827.3},{"t":186,"v":827.0},{"t":187.8,"v":826.8},{"t":189.1,"v":826.3},{"t":191.4,"v":826.3},{"t":193.2,"v":826.6},{"t":197.3,"v":827.5},{"t":199.1,"v":828.3},{"t":201.4,"v":829.5},{"t":203.2,"v":829.1},{"t":205.5,"v":829.4},{"t":207.3,"v":829.7},{"t":209.1,"v":829.5},{"t":211.4,"v":829.1},{"t":213.2,"v":828.6},{"t":215,"v":827.8},{"t":216.8,"v":827.3},{"t":218.6,"v":826.3},{"t":220.4,"v":826.1},{"t":221.4,"v":825.8},{"t":223.2,"v":826.3},{"t":225.9,"v":827.5},{"t":228.2,"v":828.5},{"t":229.5,"v":828.5},{"t":230.9,"v":828.4},{"t":233.2,"v":828.6},{"t":235.9,"v":828.6},{"t":238.6,"v":829.3},{"t":242.2,"v":830.3},{"t":245,"v":830.7},{"t":247.2,"v":831.1},{"t":249.5,"v":832.2},{"t":252.2,"v":833.3},{"t":254.5,"v":833.4},{"t":256.7,"v":834.0},{"t":258.5,"v":833.4},{"t":260.3,"v":833.2},{"t":263.5,"v":832.2},{"t":264.4,"v":831.5},{"t":267.1,"v":830.5},{"t":269.9,"v":831.1},{"t":273,"v":831.4},{"t":274.8,"v":831.3},{"t":276.5,"v":831.4},{"t":278,"v":831.1},{"t":279.5,"v":831.2},{"t":281.7,"v":830.5},{"t":283.5,"v":830.4},{"t":285.3,"v":830.2},{"t":288,"v":830.6},{"t":290.7,"v":830.7},{"t":292.5,"v":830.6},{"t":294.8,"v":830.8},{"t":295.7,"v":830.9},{"t":297.1,"v":830.6},{"t":298.9,"v":830.3},{"t":300.7,"v":830.0},{"t":302.5,"v":828.7},{"t":304.3,"v":827.8},{"t":306.2,"v":826.9},{"t":307.5,"v":826.6},{"t":309.8,"v":826.6},{"t":312.1,"v":825.9},{"t":314.3,"v":825.6},{"t":316.6,"v":825.5},{"t":318.9,"v":825.7},{"t":321.1,"v":825.7},{"t":323.4,"v":825.7},{"t":325.2,"v":826.4},{"t":327.5,"v":827.0},{"t":328.4,"v":827.7},{"t":330.7,"v":828.4},{"t":332.5,"v":828.9},{"t":334.3,"v":829.3},{"t":337,"v":829.1},{"t":339.3,"v":828.6},{"t":341.6,"v":827.8},{"t":343.4,"v":827.7},{"t":345.6,"v":827.6},{"t":347.9,"v":827.7},{"t":349.7,"v":827.9},{"t":351.1,"v":827.7},{"t":352.5,"v":828.0},{"t":354.7,"v":828.1},{"t":356.1,"v":827.9},{"t":357.3,"v":827.9},{"t":358.4,"v":828.1},{"t":360.2,"v":827.7},{"t":362.4,"v":827.3},{"t":364.7,"v":826.9},{"t":367.4,"v":826.3},{"t":369.7,"v":825.9},{"t":372,"v":825.7},{"t":374.2,"v":824.5},{"t":376.1,"v":822.4},{"t":378.3,"v":821.4},{"t":379.7,"v":820.9},{"t":381.5,"v":820.7},{"t":382.9,"v":819.7},{"t":384.7,"v":818.7},{"t":387,"v":818.6},{"t":388.6,"v":818.0},{"t":390.3,"v":817.35},{"t":392.4,"v":816.1},{"t":394,"v":814.8},{"t":396.5,"v":812.8},{"t":399,"v":811.9},{"t":400.7,"v":810.5},{"t":402.8,"v":808.8},{"t":404.5,"v":808.1},{"t":405.8,"v":808.1},{"t":407.4,"v":807.9},{"t":409.5,"v":807.8},{"t":411.2,"v":807.5},{"t":412.4,"v":807.6},{"t":414.1,"v":807.3},{"t":416.2,"v":806.7},{"t":417.9,"v":805.9},{"t":419.1,"v":805.0},{"t":420.8,"v":804.4},{"t":422.5,"v":803.6},{"t":423.7,"v":803.5},{"t":425.8,"v":803.2},{"t":427.1,"v":802.9},{"t":428.3,"v":801.0},{"t":430,"v":798.9},{"t":432.1,"v":795.9},{"t":433.3,"v":794.6},{"t":435,"v":794.0},{"t":436.7,"v":794.1},{"t":438.8,"v":794.3},{"t":440.8,"v":794.1},{"t":443.4,"v":794.1},{"t":445,"v":794.7},{"t":447.1,"v":794.9},{"t":449.2,"v":794.5},{"t":450.9,"v":794.4},{"t":453,"v":794.9},{"t":455.1,"v":794.6},{"t":457.2,"v":794.2},{"t":459.2,"v":794.6},{"t":460.9,"v":794.8},{"t":462.6,"v":794.8},{"t":464.3,"v":795.0},{"t":465.9,"v":796.4},{"t":467.2,"v":796.7},{"t":468.9,"v":796.4},{"t":470.5,"v":796.2},{"t":472.6,"v":797.0},{"t":474.3,"v":798.2},{"t":476,"v":799.3},{"t":477.2,"v":800.4},{"t":478.9,"v":801.6},{"t":480.6,"v":802.1},{"t":482.7,"v":802.5},{"t":485.2,"v":802.9},{"t":486.8,"v":803.5},{"t":488.5,"v":804.7},{"t":490.2,"v":805.8},{"t":492.3,"v":806.9},{"t":494.4,"v":807.8},{"t":496.9,"v":808.1},{"t":499,"v":809.2},{"t":501.1,"v":809.4},{"t":503.1,"v":808.7},{"t":505.2,"v":808.2},{"t":507.3,"v":808.1},{"t":509,"v":807.6},{"t":511.1,"v":806.7},{"t":514,"v":805.3},{"t":516.1,"v":804.6},{"t":518.1,"v":803.7},{"t":520,"v":804.5},{"t":521.5,"v":804.8},{"t":523.8,"v":804.9},{"t":526.9,"v":805.0},{"t":529.9,"v":804.2},{"t":531.4,"v":803.9},{"t":534.5,"v":803.5},{"t":537.2,"v":802.5},{"t":539.1,"v":802.6},{"t":541.8,"v":802.8},{"t":544.1,"v":803.6},{"t":546.7,"v":803.5},{"t":549.8,"v":803.5},{"t":551.3,"v":803.7},{"t":552.1,"v":803.6},{"t":554,"v":802.4},{"t":555.9,"v":801.3},{"t":557.1,"v":801.2},{"t":558.6,"v":801.4},{"t":559.7,"v":801.3},{"t":561.3,"v":800.7},{"t":562,"v":800.0},{"t":563.2,"v":801.0},{"t":564.3,"v":801.4},{"t":565.1,"v":802.0},{"t":567.4,"v":803.5},{"t":570.8,"v":804.1},{"t":573.9,"v":804.1},{"t":576.2,"v":804.3},{"t":578.1,"v":805.2},{"t":579.2,"v":805.5}
],
"vwap":[
{"t":-10.5,"v":828.7},{"t":-6.5,"v":828.7},{"t":-5.5,"v":828.3},{"t":-4,"v":827.0},{"t":-2.8,"v":825.8},{"t":-0.5,"v":825.6},{"t":0.3,"v":823.7},{"t":1.8,"v":823.9},{"t":4.5,"v":822.9},{"t":6.3,"v":825.4},{"t":8,"v":825.8},{"t":10.4,"v":825.9},{"t":12.5,"v":826.5},{"t":14.5,"v":826.8},{"t":16.3,"v":826.5},{"t":18.6,"v":825.5},{"t":22.2,"v":825.0},{"t":26.7,"v":825.0},{"t":29,"v":825.1},{"t":31.3,"v":824.7},{"t":34.9,"v":824.1},{"t":39.4,"v":823.8},{"t":48.5,"v":823.7},{"t":62.1,"v":823.7},{"t":71.2,"v":823.9},{"t":80.3,"v":824.2},{"t":89.3,"v":824.4},{"t":93.9,"v":824.9},{"t":98.4,"v":825.2},{"t":103,"v":825.4},{"t":112,"v":825.8},{"t":121.1,"v":826.1},{"t":125.7,"v":826.3},{"t":128,"v":826.6},{"t":129.7,"v":827.1},{"t":135.1,"v":827.5},{"t":143.3,"v":827.9},{"t":152.4,"v":828.2},{"t":161.4,"v":828.3},{"t":169.6,"v":828.4},{"t":184.1,"v":828.3},{"t":221.4,"v":828.3},{"t":247.7,"v":828.5},{"t":257.1,"v":828.5},{"t":290.7,"v":828.5},{"t":313,"v":828.43},{"t":366.5,"v":828.4},{"t":373.3,"v":828.3},{"t":381.5,"v":828.0},{"t":387.9,"v":827.8},{"t":389.7,"v":827.5},{"t":394,"v":827.4},{"t":420,"v":827.3},{"t":451,"v":827.2},{"t":493,"v":826.7},{"t":520,"v":826.5},{"t":551.7,"v":826.3},{"t":552.9,"v":801.7},{"t":554,"v":801.0},{"t":555.2,"v":800.2},{"t":555.9,"v":800.1},{"t":558.6,"v":800.6},{"t":560.5,"v":800.4},{"t":561.9,"v":800.0},{"t":563.2,"v":800.5},{"t":564.7,"v":800.85},{"t":566.2,"v":801.5},{"t":567,"v":803.25},{"t":567.8,"v":803.8},{"t":570.8,"v":803.95},{"t":575,"v":803.95},{"t":576.9,"v":804.1},{"t":579.2,"v":804.57}
],
"ticks":[{"t":0},{"t":30},{"t":60},{"t":90},{"t":120},{"t":150},{"t":180},{"t":210},{"t":240},{"t":270},{"t":300},{"t":330},{"t":360},{"t":390},{"t":413.5},{"t":443.6},{"t":490.6},{"t":527.3},{"t":551.3},{"t":566.3},{"t":604.5},{"t":624.4}],
"hgrid":[{"g":785},{"g":787.5},{"g":790},{"g":792.5},{"g":795},{"g":797.5},{"g":800},{"g":802.5},{"g":805},{"g":807.5},{"g":810},{"g":812.5},{"g":815},{"g":817.5},{"g":820},{"g":822.5},{"g":825},{"g":827.5},{"g":830},{"g":832.5},{"g":835},{"g":837.5},{"g":840},{"g":842.5},{"g":845},{"g":847.5},{"g":850},{"g":852.5}],
"badges":[{"lab":"850","v":850,"k":"blue"},{"lab":"840.31","v":840.31,"k":"gray"},{"lab":"821.21","v":821.21,"k":"pink"},{"lab":"816.54","v":816.54,"k":"blue"},{"lab":"807","v":807,"k":"gray"},{"lab":"804.54","v":804.54,"k":"mag"},{"lab":"790","v":790,"k":"blue"}]
},
"vconcat":[
{
"width":3408,"height":2020,
"view":{"fill":"#1c1c1c","stroke":null},
"resolve":{"axis":{"x":"independent","y":"independent"}},
"layer":[
{"data":{"values":[{"a":-11,"b":0},{"a":390,"b":628}]},
 "mark":{"type":"rect","color":"#3b3b3b","clip":true},
 "encoding":{"x":{"field":"a","type":"quantitative","scale":{"domain":[-10.5,627.7],"nice":false,"zero":false},
  "axis":{"orient":"bottom","values":[0,30,60,90,120,150,180,210,240,270,300,330,360,390,413.5,443.6,490.6,527.3,551.3,566.3,604.5,624.4],"labels":false,"ticks":true,"tickSize":-12,"tickColor":"#6a6a6a","tickWidth":2,"domain":true,"domainColor":"#5a5a5a","domainWidth":3,"grid":false,"title":null,"minExtent":0,"zindex":1}},
 "x2":{"field":"b"},
 "y":{"datum":853.69,"type":"quantitative","scale":{"domain":[782.76,853.69],"nice":false,"zero":false},
  "axis":{"orient":"right","values":[785,787.5,790,792.5,795,797.5,800,802.5,805,807.5,810,812.5,815,817.5,820,822.5,825,827.5,830,832.5,835,837.5,840,842.5,845,847.5,850,852.5],"labelExpr":"format(datum.value,'.1~f')","labelColor":"#a3a3a3","labelFont":"Roboto","labelFontSize":23,"labelPadding":14,"tickSize":-10,"tickColor":"#6a6a6a","tickWidth":1.5,"domain":true,"domainColor":"#5a5a5a","domainWidth":3,"grid":false,"title":null}},
 "y2":{"datum":782.76}}},
{"data":{"name":"hgrid"},
 "mark":{"type":"rule","color":"#5c5c5c","strokeDash":[2,10],"strokeWidth":1.5},
 "encoding":{"y":{"field":"g","type":"quantitative","scale":{"domain":[782.76,853.69],"nice":false,"zero":false},"axis":null}}},
{"data":{"name":"ticks"},
 "mark":{"type":"rule","color":"#5c5c5c","strokeDash":[2,10],"strokeWidth":1.5},
 "encoding":{"x":{"field":"t","type":"quantitative","scale":{"domain":[-10.5,627.7],"nice":false,"zero":false},"axis":null}}},
{"data":{"values":[{"t0":60,"t1":551.3,"v":821.21}]},
 "mark":{"type":"rule","color":"#f5b3b3","strokeWidth":3},
 "encoding":{"x":{"field":"t0","type":"quantitative","scale":{"domain":[-10.5,627.7],"nice":false,"zero":false},"axis":null},"x2":{"field":"t1"},
 "y":{"field":"v","type":"quantitative","scale":{"domain":[782.76,853.69],"nice":false,"zero":false},"axis":null}}},
{"data":{"values":[{"v":850},{"v":790}]},
 "mark":{"type":"rule","color":"#1aa9ee","strokeDash":[11,15],"strokeWidth":3},
 "encoding":{"y":{"field":"v","type":"quantitative","scale":{"domain":[782.76,853.69],"nice":false,"zero":false},"axis":null}}},
{"data":{"values":[{"t":332,"v":840.31}]},
 "mark":{"type":"rule","color":"#8c8c8c","strokeWidth":1.5},
 "encoding":{"y":{"field":"v","type":"quantitative","scale":{"domain":[782.76,853.69],"nice":false,"zero":false},"axis":null}}},
{"data":{"values":[{"t":332,"v":840.31}]},
 "mark":{"type":"rule","color":"#8c8c8c","strokeWidth":1.5},
 "encoding":{"x":{"field":"t","type":"quantitative","scale":{"domain":[-10.5,627.7],"nice":false,"zero":false},"axis":null}}},
{"data":{"values":[{"t":15,"lab":"First 15"},{"t":60,"lab":"First Hour"}]},
 "mark":{"type":"rule","color":"#6e6e6e","strokeWidth":2.5},
 "encoding":{"x":{"field":"t","type":"quantitative","scale":{"domain":[-10.5,627.7],"nice":false,"zero":false},"axis":null}}},
{"data":{"values":[{"t":15,"lab":"First 15"},{"t":60,"lab":"First Hour"}]},
 "mark":{"type":"text","angle":270,"align":"left","baseline":"bottom","dy":-3,"color":"#8e8e8e","fontSize":22,"font":"Roboto"},
 "encoding":{"x":{"field":"t","type":"quantitative","scale":{"domain":[-10.5,627.7],"nice":false,"zero":false},"axis":null},
 "y":{"datum":783.45,"type":"quantitative","scale":{"domain":[782.76,853.69],"nice":false,"zero":false},"axis":null},
 "text":{"field":"lab"}}},
{"data":{"values":[{"t":551.3}]},
 "mark":{"type":"rule","color":"#646464","strokeDash":[16,10],"strokeWidth":2},
 "encoding":{"x":{"field":"t","type":"quantitative","scale":{"domain":[-10.5,627.7],"nice":false,"zero":false},"axis":null}}},
{"data":{"name":"vwap"},
 "mark":{"type":"line","color":"#ee55ee","strokeWidth":2.5,"strokeJoin":"round","clip":true},
 "encoding":{"x":{"field":"t","type":"quantitative","scale":{"domain":[-10.5,627.7],"nice":false,"zero":false},"axis":null},
 "y":{"field":"v","type":"quantitative","scale":{"domain":[782.76,853.69],"nice":false,"zero":false},"axis":null}}},
{"data":{"name":"bars"},
 "mark":{"type":"rule","strokeWidth":1.6},
 "encoding":{
 "x":{"field":"t","type":"quantitative","scale":{"domain":[-10.5,627.7],"nice":false,"zero":false},"axis":null},
 "y":{"field":"l","type":"quantitative","scale":{"domain":[782.76,853.69],"nice":false,"zero":false},"axis":null},
 "y2":{"field":"h"},
 "color":{"condition":[{"test":"datum.c<datum.o","value":"#f45c5c"},{"test":"datum.c==datum.o","value":"#b4b4b4"}],"value":"#1db51d"}}},
{"data":{"name":"bars"},
 "mark":{"type":"bar","strokeWidth":1.8},
 "encoding":{
 "x":{"field":"t","type":"quantitative","scale":{"domain":[-10.5,627.7],"nice":false,"zero":false},"axis":null},
 "y":{"field":"o","type":"quantitative","scale":{"domain":[782.76,853.69],"nice":false,"zero":false},"axis":null},
 "y2":{"field":"c"},
 "size":{"condition":{"test":"datum.t>0 && datum.t<390","value":8},"value":5},
 "fill":{"condition":[{"test":"datum.c<datum.o","value":"#f45c5c"},{"test":"datum.t>0 && datum.t<390","value":"#1c1c1c"}],"value":"#3b3b3b"},
 "stroke":{"condition":[{"test":"datum.c<datum.o","value":"#f45c5c"},{"test":"datum.c==datum.o","value":"#b4b4b4"}],"value":"#1fbd1f"}}},
{"data":{"name":"ema"},
 "mark":{"type":"line","color":"#1fe8f2","strokeWidth":3.5,"strokeJoin":"round","clip":true},
 "encoding":{"x":{"field":"t","type":"quantitative","scale":{"domain":[-10.5,627.7],"nice":false,"zero":false},"axis":null},
 "y":{"field":"v","type":"quantitative","scale":{"domain":[782.76,853.69],"nice":false,"zero":false},"axis":null}}},
{"data":{"values":[{"i":0,"t":-10.5,"v":850.97},{"i":1,"t":551.3,"v":850.97},{"i":2,"t":551.3,"v":816.54},{"i":3,"t":627.7,"v":816.54}]},
 "mark":{"type":"line","color":"#1ea8f0","strokeWidth":4,"strokeCap":"butt","strokeJoin":"round"},
 "encoding":{"x":{"field":"t","type":"quantitative","scale":{"domain":[-10.5,627.7],"nice":false,"zero":false},"axis":null},
 "y":{"field":"v","type":"quantitative","scale":{"domain":[782.76,853.69],"nice":false,"zero":false},"axis":null},
 "order":{"field":"i"}}},
{"data":{"values":[{"lab":"Lo: 789"}]},
 "mark":{"type":"rule","color":"#b8b8b8","strokeWidth":3},
 "encoding":{"x":{"datum":433.1,"type":"quantitative","scale":{"domain":[-10.5,627.7],"nice":false,"zero":false},"axis":null},"x2":{"datum":434.6},
 "y":{"datum":788.95,"type":"quantitative","scale":{"domain":[782.76,853.69],"nice":false,"zero":false},"axis":null},"y2":{"datum":788.3}}},
{"data":{"values":[{"lab":"Lo: 789"}]},
 "mark":{"type":"rect","fill":"#e4e4e4","stroke":"#9a9a9a","strokeWidth":1.5,"cornerRadius":7},
 "encoding":{"x":{"datum":431.2,"type":"quantitative","scale":{"domain":[-10.5,627.7],"nice":false,"zero":false},"axis":null},"x2":{"datum":449.6},
 "y":{"datum":788.33,"type":"quantitative","scale":{"domain":[782.76,853.69],"nice":false,"zero":false},"axis":null},"y2":{"datum":787.07}}},
{"data":{"values":[{"lab":"Lo: 789"}]},
 "mark":{"type":"text","color":"#222222","fontSize":23,"font":"Roboto","align":"center","baseline":"middle"},
 "encoding":{"x":{"datum":440.4,"type":"quantitative","scale":{"domain":[-10.5,627.7],"nice":false,"zero":false},"axis":null},
 "y":{"datum":787.7,"type":"quantitative","scale":{"domain":[782.76,853.69],"nice":false,"zero":false},"axis":null},
 "text":{"field":"lab"}}},
{"data":{"name":"badges"},
 "transform":[{"filter":"length(datum.lab)<=3"}],
 "mark":{"type":"rect","cornerRadius":6,"yOffset":-13,"y2Offset":13,"stroke":"#333333","strokeWidth":1},
 "encoding":{"x":{"datum":628.65,"type":"quantitative","scale":{"domain":[-10.5,627.7],"nice":false,"zero":false},"axis":null},"x2":{"datum":638.4},
 "y":{"field":"v","type":"quantitative","scale":{"domain":[782.76,853.69],"nice":false,"zero":false},"axis":null},"y2":{"field":"v"},
 "fill":{"field":"k","type":"nominal","scale":{"domain":["blue","gray","pink","mag"],"range":["#19b0f5","#a6a6a6","#ffb3b3","#ff58ff"]},"legend":null}}},
{"data":{"name":"badges"},
 "transform":[{"filter":"length(datum.lab)>3"}],
 "mark":{"type":"rect","cornerRadius":6,"yOffset":-13,"y2Offset":13,"stroke":"#333333","strokeWidth":1},
 "encoding":{"x":{"datum":628.65,"type":"quantitative","scale":{"domain":[-10.5,627.7],"nice":false,"zero":false},"axis":null},"x2":{"datum":644.4},
 "y":{"field":"v","type":"quantitative","scale":{"domain":[782.76,853.69],"nice":false,"zero":false},"axis":null},"y2":{"field":"v"},
 "fill":{"field":"k","type":"nominal","scale":{"domain":["blue","gray","pink","mag"],"range":["#19b0f5","#a6a6a6","#ffb3b3","#ff58ff"]},"legend":null}}},
{"data":{"name":"badges"},
 "mark":{"type":"text","align":"left","baseline":"middle","dx":5,"color":"#111111","fontSize":23,"font":"Roboto"},
 "encoding":{"x":{"datum":628.65,"type":"quantitative","scale":{"domain":[-10.5,627.7],"nice":false,"zero":false},"axis":null},
 "y":{"field":"v","type":"quantitative","scale":{"domain":[782.76,853.69],"nice":false,"zero":false},"axis":null},
 "text":{"field":"lab"}}}
]
},
{
"width":3408,"height":36,
"view":{"fill":"#080808","stroke":"#5a5a5a","strokeWidth":3},
"data":{"values":[{}]},
"mark":{"type":"text","text":""},
"encoding":{}
},
{
"width":3408,"height":116,
"view":{"fill":"#1c1c1c","stroke":null},
"resolve":{"axis":{"x":"independent","y":"independent"}},
"layer":[
{"data":{"name":"bars"},
 "transform":[{"filter":"isValid(datum.v)"}],
 "mark":{"type":"bar","color":"#1a6fa6"},
 "encoding":{
 "x":{"field":"t","type":"quantitative","scale":{"domain":[-10.5,627.7],"nice":false,"zero":false},
  "axis":{"orient":"bottom","values":[0,30,60,90,120,150,180,210,240,270,300,330,360,390,413.5,443.6,490.6,527.3,551.3,566.3,604.5,624.4],
  "labelExpr":"['9:30','10:00','10:30','11:00','11:30','12:00','12:30','13:00','13:30','14:00','14:30','15:00','15:30','16:00','16:30','17:00','18:00','19:01','Thu','7:01','8:00','8:20'][indexof([0,30,60,90,120,150,180,210,240,270,300,330,360,390,413.5,443.6,490.6,527.3,551.3,566.3,604.5,624.4],datum.value)]",
  "labelAlign":"left","labelColor":"#a3a3a3","labelFont":"Roboto","labelFontSize":23,"labelPadding":6,"labelOverlap":false,"labelFlush":false,"ticks":false,"domain":true,"domainColor":"#5a5a5a","domainWidth":3,"grid":true,"gridColor":"#5c5c5c","gridDash":[2,10],"gridWidth":1.5,"title":null}},
 "y":{"field":"v","type":"quantitative","scale":{"domain":[0,95000],"nice":false,"zero":true},
  "axis":{"orient":"right","values":[0,25000,50000,75000],"labelExpr":"datum.value==75000 ? '' : format(datum.value, ',')","labelColor":"#a3a3a3","labelFont":"Roboto","labelFontSize":21,"labelPadding":4,"ticks":false,"domain":true,"domainColor":"#5a5a5a","domainWidth":3,"grid":true,"gridColor":"#5c5c5c","gridDash":[2,10],"gridWidth":1.5,"title":null}},
 "size":{"condition":{"test":"datum.t>0 && datum.t<390","value":4},"value":3}}},
{"data":{"values":[{"t":332}]},
 "mark":{"type":"rule","color":"#8c8c8c","strokeWidth":1.5},
 "encoding":{"x":{"field":"t","type":"quantitative","scale":{"domain":[-10.5,627.7],"nice":false,"zero":false},"axis":null}}},
{"data":{"values":[{"lab":"15:02"}]},
 "mark":{"type":"rect","fill":"#a9a9a9","stroke":"#777777","strokeWidth":1.5,"cornerRadius":7},
 "encoding":{"x":{"datum":332,"type":"quantitative","scale":{"domain":[-10.5,627.7],"nice":false,"zero":false},"axis":null},"x2":{"datum":344.6},
 "y":{"datum":-1600,"type":"quantitative","scale":{"domain":[0,95000],"nice":false,"zero":true},"axis":null},"y2":{"datum":-28500}}},
{"data":{"values":[{"lab":"15:02"}]},
 "mark":{"type":"text","color":"#111111","fontSize":24,"font":"Roboto","align":"center","baseline":"middle"},
 "encoding":{"x":{"datum":338.3,"type":"quantitative","scale":{"domain":[-10.5,627.7],"nice":false,"zero":false},"axis":null},
 "y":{"datum":-15000,"type":"quantitative","scale":{"domain":[0,95000],"nice":false,"zero":true},"axis":null},
 "text":{"field":"lab"}}}
]
}
]
}
